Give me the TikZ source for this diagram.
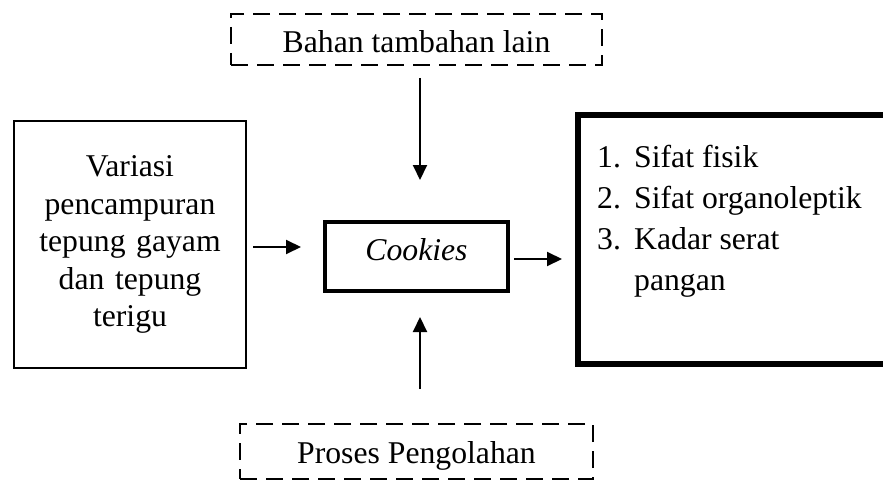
\documentclass[tikz,border=0pt]{standalone}
\usepackage{fontspec}
\setmainfont{Liberation Serif}
\usepackage{tikz}
\usetikzlibrary{positioning,arrows.meta}

\begin{document}
\begin{tikzpicture}[
  x=1pt, y=-1pt,
  every node/.style={font=\fontsize{31.7}{37.5}\selectfont, inner sep=0pt},
  dashbox/.style={draw, dash pattern=on 17pt off 9pt, line width=2pt},
  thinbox/.style={draw, line width=2pt, align=center, text width=225pt},
  midbox/.style={draw, line width=4pt},
  heavybox/.style={draw, line width=6pt},
  arr/.style={-{Triangle[length=15pt,width=14pt]}, line width=2pt},
]
% Page frame: 883 x 484, y runs downward
\useasboundingbox (0,0) rectangle (883,484);
\clip (0,0) rectangle (883,484);

% Boxes
\node[dashbox, minimum width=371pt, minimum height=51pt, text height=27pt, text depth=0pt]
  (bahan) at (416.5,39.5) {Bahan tambahan lain};
\node[thinbox, minimum width=232pt, minimum height=247pt] (variasi) at (130,244.5)
  {Variasi\\pencampuran\\tepung gayam\\dan tepung\\terigu};
\node[midbox, minimum width=183pt, minimum height=69pt, text height=21pt, text depth=14pt]
  (cookies) at (416.5,256.5) {\textit{Cookies}};
\node[heavybox, minimum width=320pt, minimum height=249pt] (hasil) at (738,239.5) {};
\node[align=left, anchor=north west, font=\fontsize{31.7}{41}\selectfont,
  below right=33pt and 22pt of hasil.north west] (hasillist)
  {\makebox[37pt][l]{1.}Sifat fisik\\
   \makebox[37pt][l]{2.}Sifat organoleptik\\
   \makebox[37pt][l]{3.}Kadar serat\\
   \hspace*{37pt}pangan};
\node[dashbox, minimum width=353pt, minimum height=55pt, text height=23pt, text depth=0pt]
  (proses) at (416.5,451.5) {Proses Pengolahan};

% Arrows into and out of Cookies
\draw[arr, shorten <=12pt, shorten >=40pt] ([xshift=3.5pt]bahan.south) -- ([xshift=3.5pt]cookies.north);
\draw[arr, shorten <=34pt, shorten >=24pt] ([xshift=3.5pt]proses.north) -- ([xshift=3.5pt]cookies.south);
\draw[arr, shorten <=6pt, shorten >=22pt] ([yshift=-2.5pt]variasi.east) -- ([yshift=9.5pt]cookies.west);
\draw[arr, shorten <=4pt, shorten >=13pt] ([yshift=-2.5pt]cookies.east) -- ([yshift=-19.5pt]hasil.west);
\end{tikzpicture}
\end{document}
